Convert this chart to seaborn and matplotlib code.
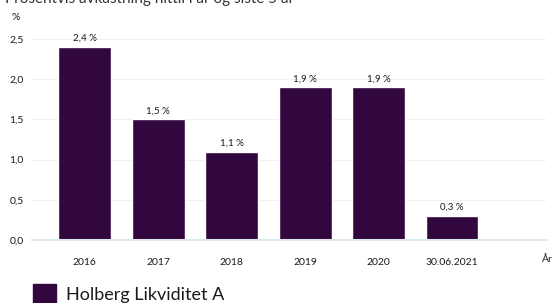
import numpy as np
import pandas as pd
import matplotlib
matplotlib.use("Agg")
import matplotlib.pyplot as plt
import seaborn as sns
from matplotlib.patches import Patch

# data
periods = ["2016", "2017", "2018", "2019", "2020", "30.06.2021"]
returns = [2.4, 1.5, 1.1, 1.9, 1.9, 0.3]
fund_name = "Holberg Likviditet A"
title = "Prosentvis avkastning hittil i år og siste 5 år"

bar_color = "#32063f"
text_color = "#1a1a1a"

sns.set_theme(style="white")
plt.rcParams["font.family"] = ["Lato", "DejaVu Sans"]

df = pd.DataFrame({"period": periods, "return": returns, "fund": fund_name})

fig = plt.figure(figsize=(5.53, 3.03), dpi=100)
ax = fig.add_axes([32 / 553, 63 / 303, (546 - 32) / 553, 201 / 303])

sns.barplot(data=df, x="period", y="return", color=bar_color, width=0.72,
            saturation=1, ax=ax)

for p, v in zip(ax.patches, returns):
    ax.text(p.get_x() + p.get_width() / 2, v + 0.05, f"{v:.1f} %".replace(".", ","),
            ha="center", va="bottom", fontsize=7, color=text_color, clip_on=False)

ax.set_ylim(0, 2.5)
ax.set_xlim(-0.72, 6.28)
yt = np.arange(0, 2.51, 0.5)
ax.set_yticks(yt)
ax.set_yticklabels([f"{t:.1f}".replace(".", ",") for t in yt])
ax.grid(axis="y", color="#eef2f5", linewidth=0.8)
ax.set_axisbelow(True)
for s in ["top", "right", "left"]:
    ax.spines[s].set_visible(False)
ax.spines["bottom"].set_color("#dbe6ee")
ax.spines["bottom"].set_linewidth(1.5)
ax.tick_params(axis="both", length=0, labelsize=7.5, colors=text_color)
ax.tick_params(axis="y", pad=6)
ax.tick_params(axis="x", pad=13)
ax.set_xlabel("")
ax.set_ylabel("")

# axis unit labels
fig.text(15.5 / 553, 1 - 18 / 303, "%", ha="center", va="center", fontsize=7.5, color=text_color)
fig.text(542 / 553, 1 - 260 / 303, "År", ha="left", va="center", fontsize=7.5, color=text_color)

# title cut at the top edge
fig.text(5 / 553, 1 - 3 / 303, title, ha="left", va="baseline", fontsize=11, color="#333333")

fig.legend(handles=[Patch(color=bar_color, label=fund_name)], loc="lower left",
           bbox_to_anchor=(17 / 553, -17 / 303), frameon=False, fontsize=13,
           handlelength=1.25, handleheight=1.3, handletextpad=0.55, labelcolor=text_color)

fig.savefig("out.png", dpi=100)
